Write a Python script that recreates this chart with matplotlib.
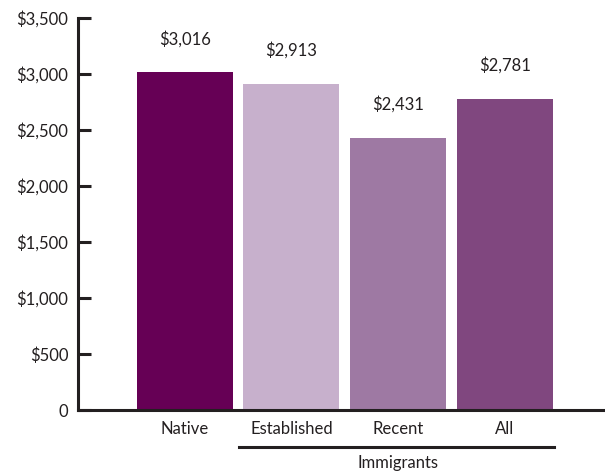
import numpy as np
import matplotlib.pyplot as plt
from matplotlib.transforms import blended_transform_factory

# monthly amounts by group
categories = ["Native", "Established", "Recent", "All"]
values = [3016, 2913, 2431, 2781]
value_labels = ["$3,016", "$2,913", "$2,431", "$2,781"]
colors = ["#660055", "#c7b0cc", "#9e79a3", "#80477f"]
yticks = [0, 500, 1000, 1500, 2000, 2500, 3000, 3500]
ytick_labels = ["0", "$500", "$1,000", "$1,500", "$2,000", "$2,500", "$3,000", "$3,500"]
group_label = "Immigrants"

plt.rcParams['font.family'] = ['Lato', 'DejaVu Sans']
text_color = "#231f20"

fig = plt.figure(figsize=(6.05, 4.72), dpi=100)
ax = fig.add_axes([0.129, 0.131, 0.871, 0.831])

x = np.arange(len(categories))
ax.bar(x, values, width=0.9, color=colors)

# value labels above bars
for xi, v, lab in zip(x, values, value_labels):
    ax.annotate(lab, (xi, v), xytext=(0, 24), textcoords="offset points",
                ha="center", va="center", fontsize=12, color=text_color)

ax.set_xlim(-1.0, 3.94)
ax.set_ylim(0, 3500)
ax.set_yticks(yticks)
ax.set_yticklabels(ytick_labels)
ax.set_xticks(x)
ax.set_xticklabels(categories)

for side in ["top", "right"]:
    ax.spines[side].set_visible(False)
for side in ["left", "bottom"]:
    ax.spines[side].set_linewidth(2.2)
    ax.spines[side].set_color(text_color)

ax.tick_params(axis="y", direction="in", length=9.5, width=2.2, pad=7,
               labelsize=12, colors=text_color)
ax.tick_params(axis="x", length=0, pad=8, labelsize=12, colors=text_color)

# group bracket under immigrant categories
trans = blended_transform_factory(ax.transData, ax.transAxes)
ax.plot([0.51, 3.46], [-0.094, -0.094], color=text_color, lw=2.2,
        transform=trans, clip_on=False)
ax.text(2.0, -0.135, group_label, transform=trans, ha="center", va="center",
        fontsize=12, color=text_color)

fig.savefig("out.png", dpi=100)
